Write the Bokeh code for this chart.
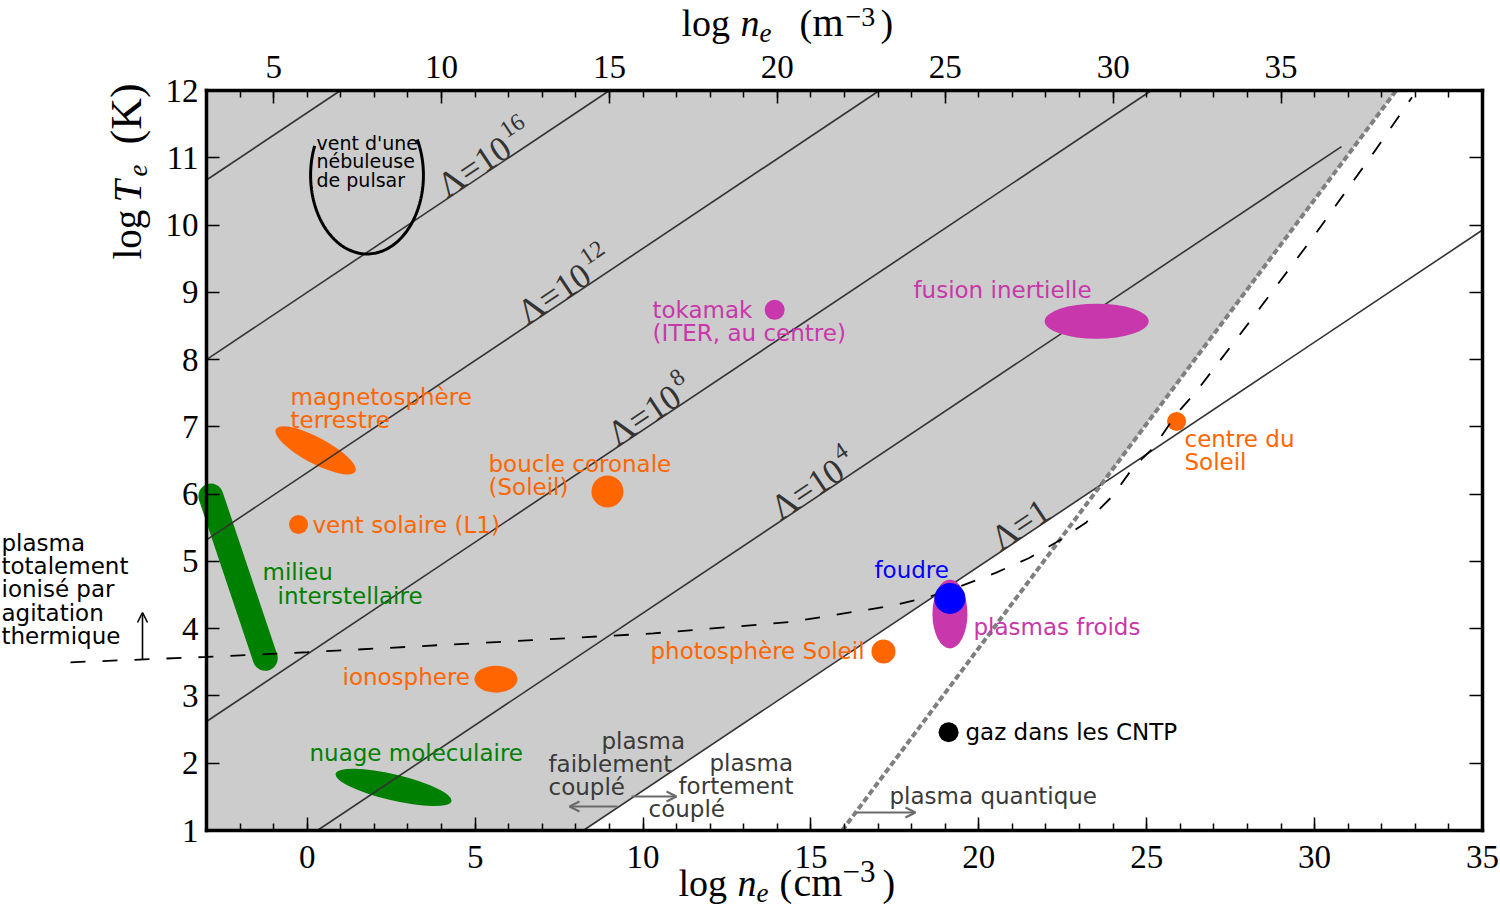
import math
import numpy as np
from bokeh.plotting import figure
from bokeh.models import Range1d, LinearAxis, FixedTicker, Label, Arrow, OpenHead
from bokeh.embed import file_html
from bokeh.resources import INLINE

# ---------------- data ----------------
X_RANGE = (-3, 35)          # log n_e (cm^-3)
Y_RANGE = (1, 12)           # log T_e (K)
M3_SHIFT = 6                # log n_e (m^-3) = log n_e (cm^-3) + 6

bottom_ticks = [0, 5, 10, 15, 20, 25, 30, 35]
top_ticks = [5, 10, 15, 20, 25, 30, 35]
y_ticks = [1, 2, 3, 4, 5, 6, 7, 8, 9, 10, 11, 12]

# coupling-parameter lines: log T = log n / 3 + intercept
lambda_exp = [0, 4, 8, 12, 16, 20]
lambda_intercept = [-1.74, 0.90, 3.62, 6.32, 9.00, 11.67]
lambda_n_end = [35, 30.8, 35, 35, 35, 35]
lambda_label_n = [20.65, 14.09, 9.23, 6.55, 4.17]
lambda_label_main = ["Λ=1", "Λ=10", "Λ=10", "Λ=10", "Λ=10"]
lambda_label_sup = ["", "4", "8", "12", "16"]

# quantum degeneracy limit: log T = 2/3 log n + intercept
quantum_slope = 2.0 / 3.0
quantum_intercept = -9.62

# full thermal ionisation curve
ion_n = [-7.05, -3.0, 0.0, 3.0, 6.7, 10.3, 14.4, 17.4, 18.5, 19.5, 20.5, 21.5,
         22.4, 23.2, 24.0, 24.6, 25.2, 25.9, 26.5, 28.0, 30.0, 31.85, 32.9]
ion_T = [3.50, 3.58, 3.65, 3.73, 3.83, 3.93, 4.10, 4.34, 4.47, 4.64, 4.83, 5.05,
         5.31, 5.58, 5.98, 6.40, 6.69, 7.20, 7.54, 8.52, 9.85, 11.14, 11.90]

# pulsar wind nebula (open arc)
pulsar_n, pulsar_T = 1.78, 10.74
pulsar_dn, pulsar_dT = 1.68, 1.17

# interstellar medium (elongated band)
ism_n = [-2.87, -1.25]
ism_T = [5.97, 3.56]

# extended regions
reg_name = ["magnetosphère", "ionosphere", "nuage moleculaire", "fusion inertielle", "plasmas froids"]
reg_n = [0.25, 5.62, 2.57, 23.51, 19.14]
reg_T = [6.65, 3.25, 1.64, 8.57, 4.22]

# point-like objects
pt_name = ["vent solaire", "boucle coronale", "photosphère", "centre du Soleil", "tokamak", "gaz CNTP", "foudre"]
pt_n = [-0.26, 8.94, 17.16, 25.89, 13.92, 19.10, 19.14]
pt_T = [5.55, 6.04, 3.66, 7.08, 8.74, 2.46, 4.45]

# ---------------- styles ----------------
ORANGE = "#ff6600"
GREEN = "#008000"
MAGENTA = "#c837ab"
BLUE = "#0000ff"
GREYTXT = "#3a3a3a"
SANS = "DejaVu Sans"
SERIF = "Liberation Serif"
BASE_FIX = 0.28     # em shift between requested and rendered alphabetic baseline

reg_w = [90, 43, 119, 104, 35]
reg_h = [26, 27, 26, 35, 69]
reg_angle = [-28, 0, -13.3, 0, 0]
reg_color = [ORANGE, ORANGE, GREEN, MAGENTA, MAGENTA]
reg_top = [False, False, False, True, True]

pt_size = [19, 32, 24, 19, 20, 20, 31]
pt_color = [ORANGE, ORANGE, ORANGE, ORANGE, MAGENTA, "black", BLUE]
pt_top = [False, False, False, False, False, False, True]

# canvas / box placement (pixels)
W, H = 1500, 910
FL, FR, FT, FB = 206, 1482, 90, 830
XU = (FR - FL) / (X_RANGE[1] - X_RANGE[0])
YU = (FB - FT) / (Y_RANGE[1] - Y_RANGE[0])


def dx(xp):
    return X_RANGE[0] + (xp - FL) / XU


def dy(yp):
    return Y_RANGE[1] - (yp - FT) / YU


p = figure(frame_width=W, frame_height=H,
           x_range=Range1d(dx(0), dx(W)), y_range=Range1d(dy(H), dy(0)),
           output_backend="svg", toolbar_location=None,
           x_axis_location=None, y_axis_location=None, min_border=0,
           background_fill_color="white", border_fill_color="white")
p.extra_x_ranges = {"m3": Range1d(dx(0) + M3_SHIFT, dx(W) + M3_SHIFT)}
p.xgrid.visible = False
p.ygrid.visible = False
p.outline_line_color = None


def style_axis(ax, minor=True, labels=True):
    ax.axis_line_width = 3.5
    ax.axis_line_color = "black"
    ax.axis_line_cap = "square"
    ax.major_tick_in = 13
    ax.major_tick_out = 0
    ax.major_tick_line_width = 1.5
    ax.minor_tick_in = 7
    ax.minor_tick_out = 0
    ax.minor_tick_line_width = 1.5
    if not minor:
        ax.minor_tick_line_color = None
    ax.major_label_text_font = SERIF
    ax.major_label_text_font_size = "33px"
    ax.major_label_text_color = "black"
    if not labels:
        ax.major_label_text_font_size = "1px"
        ax.major_label_text_color = None


# ---------------- grey weakly coupled region ----------------
c0 = lambda_intercept[0]
n_q_top = (Y_RANGE[1] - quantum_intercept) / quantum_slope
n_int = (c0 - quantum_intercept) / (quantum_slope - 1.0 / 3.0)
T_int = c0 + n_int / 3.0
n_bot = (Y_RANGE[0] - c0) * 3.0
p.patch([X_RANGE[0], n_q_top, n_int, n_bot, X_RANGE[0]],
        [Y_RANGE[1], Y_RANGE[1], T_int, Y_RANGE[0], Y_RANGE[0]],
        fill_color="#cccccc", line_color=None)

# ---------------- low layer shapes ----------------
p.line(ism_n, ism_T, line_width=25, line_cap="round", line_color=GREEN)
for i in range(len(reg_n)):
    if not reg_top[i]:
        p.ellipse(x=reg_n[i], y=reg_T[i], width=reg_w[i], height=reg_h[i],
                  width_units="screen", height_units="screen",
                  angle=reg_angle[i], angle_units="deg",
                  fill_color=reg_color[i], line_color=None)

# ---------------- coupling lines ----------------
for c, nend in zip(lambda_intercept, lambda_n_end):
    xs = max(X_RANGE[0], 3 * (Y_RANGE[0] - c))
    xe = min(nend, 3 * (Y_RANGE[1] - c))
    p.line([xs, xe], [xs / 3 + c, xe / 3 + c], line_color="#333333", line_width=1.6)

for i in range(len(pt_n)):
    if not pt_top[i]:
        p.scatter([pt_n[i]], [pt_T[i]], size=pt_size[i], fill_color=pt_color[i], line_color=None)

# pulsar arc
t = np.radians(np.linspace(158, 387, 120))
p.line(pulsar_n + pulsar_dn * np.cos(t), pulsar_T + pulsar_dT * np.sin(t),
       line_color="black", line_width=3)

# quantum limit
qx = [(Y_RANGE[0] - quantum_intercept) / quantum_slope, n_q_top]
p.line(qx, [Y_RANGE[0], Y_RANGE[1]], line_color="#7f7f7f", line_width=4, line_dash="6 3")

# ionisation curve (continues into the left margin)
p.line(ion_n, ion_T, line_color="black", line_width=1.8, line_dash="15 17")

# top layer shapes
for i in range(len(reg_n)):
    if reg_top[i]:
        p.ellipse(x=reg_n[i], y=reg_T[i], width=reg_w[i], height=reg_h[i],
                  width_units="screen", height_units="screen",
                  angle=reg_angle[i], angle_units="deg",
                  fill_color=reg_color[i], line_color=None)
for i in range(len(pt_n)):
    if pt_top[i]:
        p.scatter([pt_n[i]], [pt_T[i]], size=pt_size[i], fill_color=pt_color[i], line_color=None)

# ---------------- axes (fixed on the box edges) ----------------
xb = LinearAxis(fixed_location=Y_RANGE[0], bounds=X_RANGE,
                ticker=FixedTicker(ticks=bottom_ticks, minor_ticks=list(range(-3, 36))))
style_axis(xb)
xb.major_label_standoff = 15
p.add_layout(xb, "below")

xt = LinearAxis(x_range_name="m3", fixed_location=Y_RANGE[1],
                bounds=(X_RANGE[0] + M3_SHIFT, X_RANGE[1] + M3_SHIFT),
                ticker=FixedTicker(ticks=top_ticks, minor_ticks=list(range(3, 42))))
style_axis(xt)
xt.major_label_standoff = 13
p.add_layout(xt, "above")

yl = LinearAxis(fixed_location=X_RANGE[0], bounds=Y_RANGE, ticker=FixedTicker(ticks=y_ticks))
style_axis(yl, minor=False)
yl.major_label_standoff = 8
p.add_layout(yl, "left")

yr = LinearAxis(fixed_location=X_RANGE[1], bounds=Y_RANGE, ticker=FixedTicker(ticks=y_ticks))
style_axis(yr, minor=False, labels=False)
p.add_layout(yr, "right")


# ---------------- text helpers ----------------
def serif_text(text, xp, yp, size, style="normal", angle=0.0, color="black"):
    """(xp, yp): wanted baseline-left point in canvas pixels."""
    sh = BASE_FIX * size
    xq = xp - sh * math.sin(angle)
    yq = yp - sh * math.cos(angle)
    p.add_layout(Label(x=dx(xq), y=dy(yq), text=text, text_font=SERIF, text_font_size=f"{size}px",
                       text_font_style=style, text_color=color, text_align="left",
                       text_baseline="alphabetic", angle=angle))


def note(text, xp, yp, color, size=23, lh=0.89):
    p.add_layout(Label(x=dx(xp), y=dy(yp), text=text, text_color=color, text_font=SANS,
                       text_font_size=f"{size}px", text_align="left", text_baseline="middle",
                       text_line_height=lh))


# ---------------- lambda labels ----------------
ang = math.atan((1.0 / 3.0) * YU / XU)
LFS = 35
ca, sa = math.cos(ang), math.sin(ang)
for n, c, main, sup in zip(lambda_label_n, lambda_intercept, lambda_label_main, lambda_label_sup):
    bx = FL + (n - X_RANGE[0]) * XU - 2 * sa
    by = FT + (Y_RANGE[1] - (n / 3 + c)) * YU - 2 * ca
    serif_text(main, bx, by, LFS, angle=ang, color="#333333")
    if sup:
        along = 2.36 * LFS
        rise = 0.45 * LFS
        serif_text(sup, bx + along * ca - rise * sa, by - along * sa - rise * ca, 24,
                   angle=ang, color="#333333")

# ---------------- annotation texts ----------------
note("vent d'une\nnébuleuse\nde pulsar", 316, 161, "black", size=19, lh=0.86)
note("magnetosphère\nterrestre", 290, 408, ORANGE)
note("vent solaire (L1)", 312, 524, ORANGE)
note("boucle coronale\n(Soleil)", 488, 475, ORANGE)
note("milieu", 262, 571, GREEN)
note("interstellaire", 277, 595, GREEN)
note("ionosphere", 342, 676, ORANGE)
note("nuage moleculaire", 309, 752, GREEN)
note("tokamak\n(ITER, au centre)", 652, 321, MAGENTA)
note("fusion inertielle", 913, 289, MAGENTA)
note("foudre", 874, 569, BLUE)
note("plasmas froids", 973, 626, MAGENTA)
note("photosphère Soleil", 650, 650, ORANGE)
note("centre du\nSoleil", 1184, 450, ORANGE)
note("gaz dans les CNTP", 965, 731, "black")
note("plasma", 601, 740, GREYTXT)
note("faiblement\ncouplé", 548, 775, GREYTXT)
note("plasma", 709, 762, GREYTXT)
note("fortement", 678, 785, GREYTXT)
note("couplé", 648, 808, GREYTXT)
note("plasma quantique", 889, 795, GREYTXT)
note("plasma\ntotalement\nionisé par\nagitation\nthermique", 1, 589, "black")

# arrows
AG = "#6a6a6a"
p.add_layout(Arrow(end=OpenHead(size=10, line_color=AG, line_width=2), line_color=AG, line_width=2,
                   x_start=dx(617), y_start=dy(806), x_end=dx(569), y_end=dy(806)))
p.add_layout(Arrow(end=OpenHead(size=10, line_color=AG, line_width=2), line_color=AG, line_width=2,
                   x_start=dx(631), y_start=dy(796), x_end=dx(676), y_end=dy(796)))
p.add_layout(Arrow(end=OpenHead(size=10, line_color=AG, line_width=2), line_color=AG, line_width=2,
                   x_start=dx(856), y_start=dy(812), x_end=dx(915), y_end=dy(812)))
p.add_layout(Arrow(end=OpenHead(size=10, line_color="black", line_width=1.6), line_color="black",
                   line_width=1.6, x_start=dx(142), y_start=dy(659), x_end=dx(142), y_end=dy(612)))

# ---------------- axis titles (composed) ----------------
# bottom: log n_e (cm^-3)
serif_text("log", 678, 893, 38)
serif_text("n", 737, 893, 38, style="italic")
serif_text("e", 756, 900, 27, style="italic")
serif_text("(", 779, 893, 38)
serif_text("cm", 793, 893, 40)
serif_text("−3", 842, 880, 31)
serif_text(")", 882, 893, 38)
# top: log n_e (m^-3)
serif_text("log", 681, 33, 38)
serif_text("n", 740, 33, 38, style="italic")
serif_text("e", 759, 40, 27, style="italic")
serif_text("(", 799, 33, 38)
serif_text("m", 812, 33, 40)
serif_text("−3", 845, 24, 28)
serif_text(")", 880, 33, 38)
# left: log T_e (K)
R = math.pi / 2
serif_text("log", 138, 259, 39, angle=R)
serif_text("T", 138, 202, 40, style="italic", angle=R)
serif_text("e", 145, 176, 27, style="italic", angle=R)
serif_text("(K)", 138, 144, 44, angle=R)

open("out.html", "w").write(file_html(p, INLINE))
